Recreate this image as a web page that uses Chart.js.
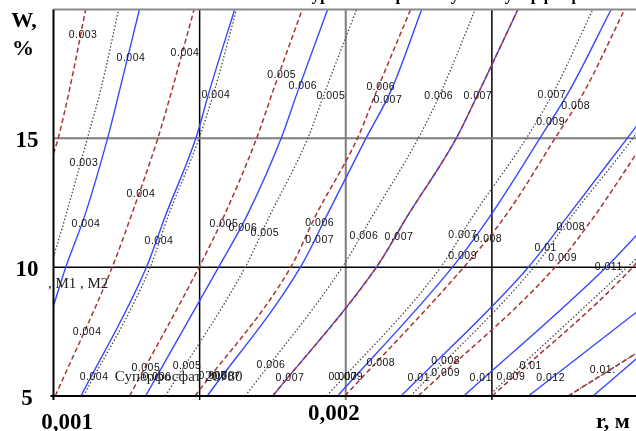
<!DOCTYPE html>
<html>
<head>
<meta charset="utf-8">
<script src="https://cdn.jsdelivr.net/npm/chart.js@4/dist/chart.umd.min.js"></script>
<style>
  html, body { margin: 0; padding: 0; background: #fff; overflow: hidden; width: 636px; height: 431px; }
  #wrap { position: relative; width: 642px; height: 431px; }
  canvas { display: block; }
</style>
</head>
<body>
<div id="wrap"><canvas id="c" width="642" height="431"></canvas></div>
<script>
// Axis ranges and tick values
const rTicks = [0.001, 0.0015, 0.002, 0.0025, 0.003];
const wTicks = [5, 10, 15, 20];
const rTickLabels = ['0,001', '0,002'];
const rTickLabelValues = [0.001, 0.002];
const wTickLabels = ['5', '10', '15'];
const wTickLabelValues = [5, 10, 15];

// Isolines, solid blue family: [r, W]
const blue1 = [[0.001294, 20], [0.001227, 16.9], [0.001185, 15], [0.001107, 12], [0.001042, 10], [0.001, 8.5]];
const blue2 = [[0.001620, 20], [0.001535, 16.9], [0.001487, 15], [0.001383, 12], [0.001318, 10], [0.001094, 5]];
const blue3 = [[0.001938, 20], [0.001838, 16.9], [0.001779, 15], [0.001662, 12], [0.001565, 10], [0.001315, 5]];
const blue4 = [[0.002260, 20], [0.002157, 16.9], [0.002069, 15], [0.001935, 12], [0.001845, 10], [0.001526, 5]];
const blue5 = [[0.002589, 20], [0.002460, 16.9], [0.002378, 15], [0.002212, 12], [0.002105, 10], [0.001750, 5]];
const blue6 = [[0.002908, 20], [0.002768, 16.9], [0.002664, 15], [0.002495, 12], [0.002365, 10], [0.001972, 5]];
const blue7 = [[0.003, 15.55], [0.002963, 15], [0.002761, 12], [0.002625, 10], [0.002189, 5]];
const blue8 = [[0.003, 11.3], [0.002891, 10], [0.002404, 5]];
const blue9 = [[0.003, 8.3], [0.002625, 5]];
const blue10 = [[0.003, 6.5], [0.002846, 5]];

// Isolines, dashed brown family: [r, W]
const brown1 = [[0.001110, 20], [0.001055, 16.9], [0.001016, 15], [0.001, 14.4]];
const brown2 = [[0.001481, 20], [0.001406, 16.9], [0.001357, 15], [0.001266, 12], [0.001201, 10], [0.001006, 5]];
const brown3 = [[0.001851, 20], [0.001753, 16.9], [0.001695, 15], [0.001584, 12], [0.001498, 10], [0.001260, 5]];
const brown4 = [[0.002222, 20], [0.002108, 16.9], [0.002040, 15], [0.001897, 12], [0.001812, 10], [0.001484, 5]];
const brown5 = [[0.002589, 20], [0.002460, 16.9], [0.002378, 15], [0.002212, 12], [0.002105, 10], [0.001750, 5]];
const brown6 = [[0.002954, 20], [0.002820, 16.9], [0.002716, 15], [0.002547, 12], [0.002404, 10], [0.001997, 5]];
const brown7 = [[0.003, 14.5], [0.002852, 12], [0.002716, 10], [0.002248, 5]];
const brown8 = [[0.003, 10.25], [0.002982, 10], [0.002501, 5]];
const brown9 = [[0.003, 6.7], [0.002761, 5]];

// Isolines, dotted grey family: [r, W]
const grey1 = [[0.001223, 20], [0.001162, 16.9], [0.001116, 15], [0.001042, 12], [0.001, 10.4]];
const grey2 = [[0.001626, 20], [0.001552, 16.9], [0.001498, 15], [0.001393, 12], [0.001331, 10], [0.001103, 5]];
const grey3 = [[0.002037, 20], [0.001932, 16.9], [0.001870, 15], [0.001740, 12], [0.001656, 10], [0.001383, 5]];
const grey4 = [[0.002443, 20], [0.002330, 16.9], [0.002248, 15], [0.002092, 12], [0.001988, 10], [0.001656, 5]];
const grey5 = [[0.002845, 20], [0.002716, 16.9], [0.002618, 15], [0.002436, 12], [0.002325, 10], [0.001935, 5]];
const grey6 = [[0.003, 15.3], [0.002982, 15], [0.002774, 12], [0.002644, 10], [0.002222, 5]];
const grey7 = [[0.003, 10.4], [0.002963, 10], [0.002488, 5]];
const grey8 = [[0.003, 6.7], [0.002761, 5]];

// Contour level labels: [text, r, W]
const levelLabels = [
  ['0.003', 0.001101, 18.99], ['0.004', 0.001265, 18.10], ['0.004', 0.001450, 18.29],
  ['0.004', 0.001556, 16.67], ['0.005', 0.001781, 17.44], ['0.006', 0.001853, 17.02],
  ['0.005', 0.001949, 16.63], ['0.006', 0.002120, 16.98], ['0.007', 0.002144, 16.47],
  ['0.006', 0.002318, 16.63], ['0.007', 0.002452, 16.63], ['0.007', 0.002705, 16.67],
  ['0.008', 0.002787, 16.24], ['0.009', 0.002701, 15.62],
  ['0.003', 0.001104, 14.03], ['0.004', 0.001299, 12.83], ['0.004', 0.001111, 11.67],
  ['0.004', 0.001361, 11.01], ['0.005', 0.001583, 11.67], ['0.006', 0.001648, 11.51],
  ['0.005', 0.001723, 11.32], ['0.006', 0.001911, 11.71], ['0.007', 0.001911, 11.05],
  ['0.006', 0.002062, 11.20], ['0.007', 0.002182, 11.16], ['0.007', 0.002400, 11.24],
  ['0.008', 0.002486, 11.09], ['0.009', 0.002400, 10.43], ['0.008', 0.002770, 11.55],
  ['0.01', 0.002684, 10.74], ['0.009', 0.002742, 10.35], ['0.011', 0.002900, 10.00],
  ['0.004', 0.001115, 7.48], ['0.005', 0.001316, 6.09], ['0.005', 0.001457, 6.16],
  ['0.004', 0.001139, 5.74], ['0.006', 0.001354, 5.74], ['0.006', 0.001545, 5.78],
  ['0.007', 0.001590, 5.74], ['0.006', 0.001744, 6.20], ['0.007', 0.001809, 5.70],
  ['0.008', 0.002120, 6.28], ['0.007', 0.001990, 5.74], ['0.009', 0.002010, 5.74],
  ['0.008', 0.002342, 6.36], ['0.009', 0.002342, 5.89], ['0.01', 0.002250, 5.70],
  ['0.01', 0.002462, 5.70], ['0.009', 0.002565, 5.74], ['0.01', 0.002633, 6.16],
  ['0.012', 0.002701, 5.70], ['0.01.', 0.002879, 6.01]
];

// Free text notes placed on the field: [text, r, W]
const fieldNotes = [
  [', M1 , M2', 0.000981, 9.34],
  ['Суперфосфат 20780', 0.001210, 5.74]
];

const chartTitle = 'Линии уровня скорости сушки суперфосфата';
const rAxisName = 'r, м';
const wAxisName = ['W,', '%'];

function family(lines, colour, dash, width) {
  return lines.map(pts => ({
    data: pts.map(([r, w]) => ({ x: r, y: w })).sort((a, b) => a.x - b.x),
    borderColor: colour,
    borderWidth: width,
    borderDash: dash,
    pointRadius: 0,
    fill: false,
    cubicInterpolationMode: 'monotone'
  }));
}

const datasets = [
  ...family([brown1, brown2, brown3, brown4, brown5, brown6, brown7, brown8, brown9], '#a83434', [5, 3], 1.5),
  ...family([grey1, grey2, grey3, grey4, grey5, grey6, grey7, grey8], '#4a4a4a', [1.5, 2], 1.3),
  ...family([blue1, blue2, blue3, blue4, blue5, blue6, blue7, blue8, blue9, blue10], '#3848ff', [], 1.4)
];

const serif = '"Liberation Serif", "Times New Roman", serif';

const framePlugin = {
  id: 'frame',
  beforeDatasetsDraw(chart) {
    const { ctx, chartArea: a, scales: { x, y } } = chart;
    ctx.save();
    // inner grid
    rTicks.slice(1, -1).forEach(v => {
      const px = x.getPixelForValue(v);
      const mid = Math.abs(v - 0.002) < 1e-9;
      ctx.strokeStyle = mid ? '#7d7d7d' : '#000';
      ctx.lineWidth = mid ? 2 : 1.5;
      ctx.beginPath(); ctx.moveTo(px, a.top); ctx.lineTo(px, a.bottom + 4); ctx.stroke();
    });
    wTicks.slice(1, -1).forEach(v => {
      const py = y.getPixelForValue(v);
      const mid = v === 15;
      ctx.strokeStyle = mid ? '#7d7d7d' : '#000';
      ctx.lineWidth = mid ? 2 : 1.5;
      ctx.beginPath(); ctx.moveTo(a.left, py); ctx.lineTo(a.right, py); ctx.stroke();
    });
    ctx.restore();
  },
  afterDatasetsDraw(chart) {
    const { ctx, chartArea: a, scales: { x, y } } = chart;
    ctx.save();
    // frame
    const top = y.getPixelForValue(wTicks[wTicks.length - 1]);
    const bottom = y.getPixelForValue(wTicks[0]);
    const left = x.getPixelForValue(rTicks[0]);
    ctx.strokeStyle = '#8a8a8a'; ctx.lineWidth = 2;
    ctx.beginPath(); ctx.moveTo(left, top); ctx.lineTo(a.right, top); ctx.stroke();
    ctx.strokeStyle = '#000'; ctx.lineWidth = 2;
    ctx.beginPath(); ctx.moveTo(left, top); ctx.lineTo(left, bottom + 4); ctx.stroke();
    ctx.beginPath(); ctx.moveTo(left - 3, bottom); ctx.lineTo(a.right, bottom); ctx.stroke();

    // contour level labels
    ctx.fillStyle = '#111';
    ctx.font = '10.5px "Liberation Sans", Arial, sans-serif';
    ctx.letterSpacing = '0.5px';
    ctx.textAlign = 'center';
    ctx.textBaseline = 'middle';
    levelLabels.forEach(([t, r, w]) => {
      ctx.fillText(t, x.getPixelForValue(r), y.getPixelForValue(w));
    });
    ctx.letterSpacing = '0px';

    // notes
    ctx.textAlign = 'left';
    ctx.fillStyle = '#222';
    ctx.font = '15px ' + serif;
    fieldNotes.forEach(([t, r, w]) => {
      ctx.fillText(t, x.getPixelForValue(r), y.getPixelForValue(w));
    });

    // title (sits above the drawing area, mostly cut off by the page top)
    ctx.fillStyle = '#000';
    ctx.font = 'bold 17px ' + serif;
    ctx.textAlign = 'center';
    ctx.textBaseline = 'alphabetic';
    ctx.fillText(chartTitle, 430, 0);

    // tick labels
    ctx.font = 'bold 23px ' + serif;
    const rShift = [13.5, -12];
    const rBase = [429, 420];
    rTickLabels.forEach((t, i) => {
      ctx.fillText(t, x.getPixelForValue(rTickLabelValues[i]) + rShift[i], rBase[i]);
    });
    ctx.textBaseline = 'middle';
    wTickLabels.forEach((t, i) => {
      ctx.fillText(t, 27, y.getPixelForValue(wTickLabelValues[i]) + 3);
    });

    // axis names
    ctx.textBaseline = 'alphabetic';
    ctx.font = 'bold 22px ' + serif;
    ctx.fillText(wAxisName[0], 24, 27);
    ctx.fillText(wAxisName[1], 23, 55);
    ctx.textAlign = 'left';
    ctx.fillText(rAxisName, 596, 428);
    ctx.restore();
  }
};

new Chart(document.getElementById('c'), {
  type: 'line',
  data: { datasets },
  options: {
    responsive: false,
    animation: false,
    devicePixelRatio: 1,
    layout: { padding: { left: 53.5, right: 4, top: 9.5, bottom: 35 } },
    plugins: { legend: { display: false }, tooltip: { enabled: false }, title: { display: false } },
    scales: {
      x: { type: 'linear', min: rTicks[0], max: rTicks[rTicks.length - 1], display: false },
      y: { type: 'linear', min: wTicks[0], max: wTicks[wTicks.length - 1], display: false }
    }
  },
  plugins: [framePlugin]
});
</script>
</body>
</html>
